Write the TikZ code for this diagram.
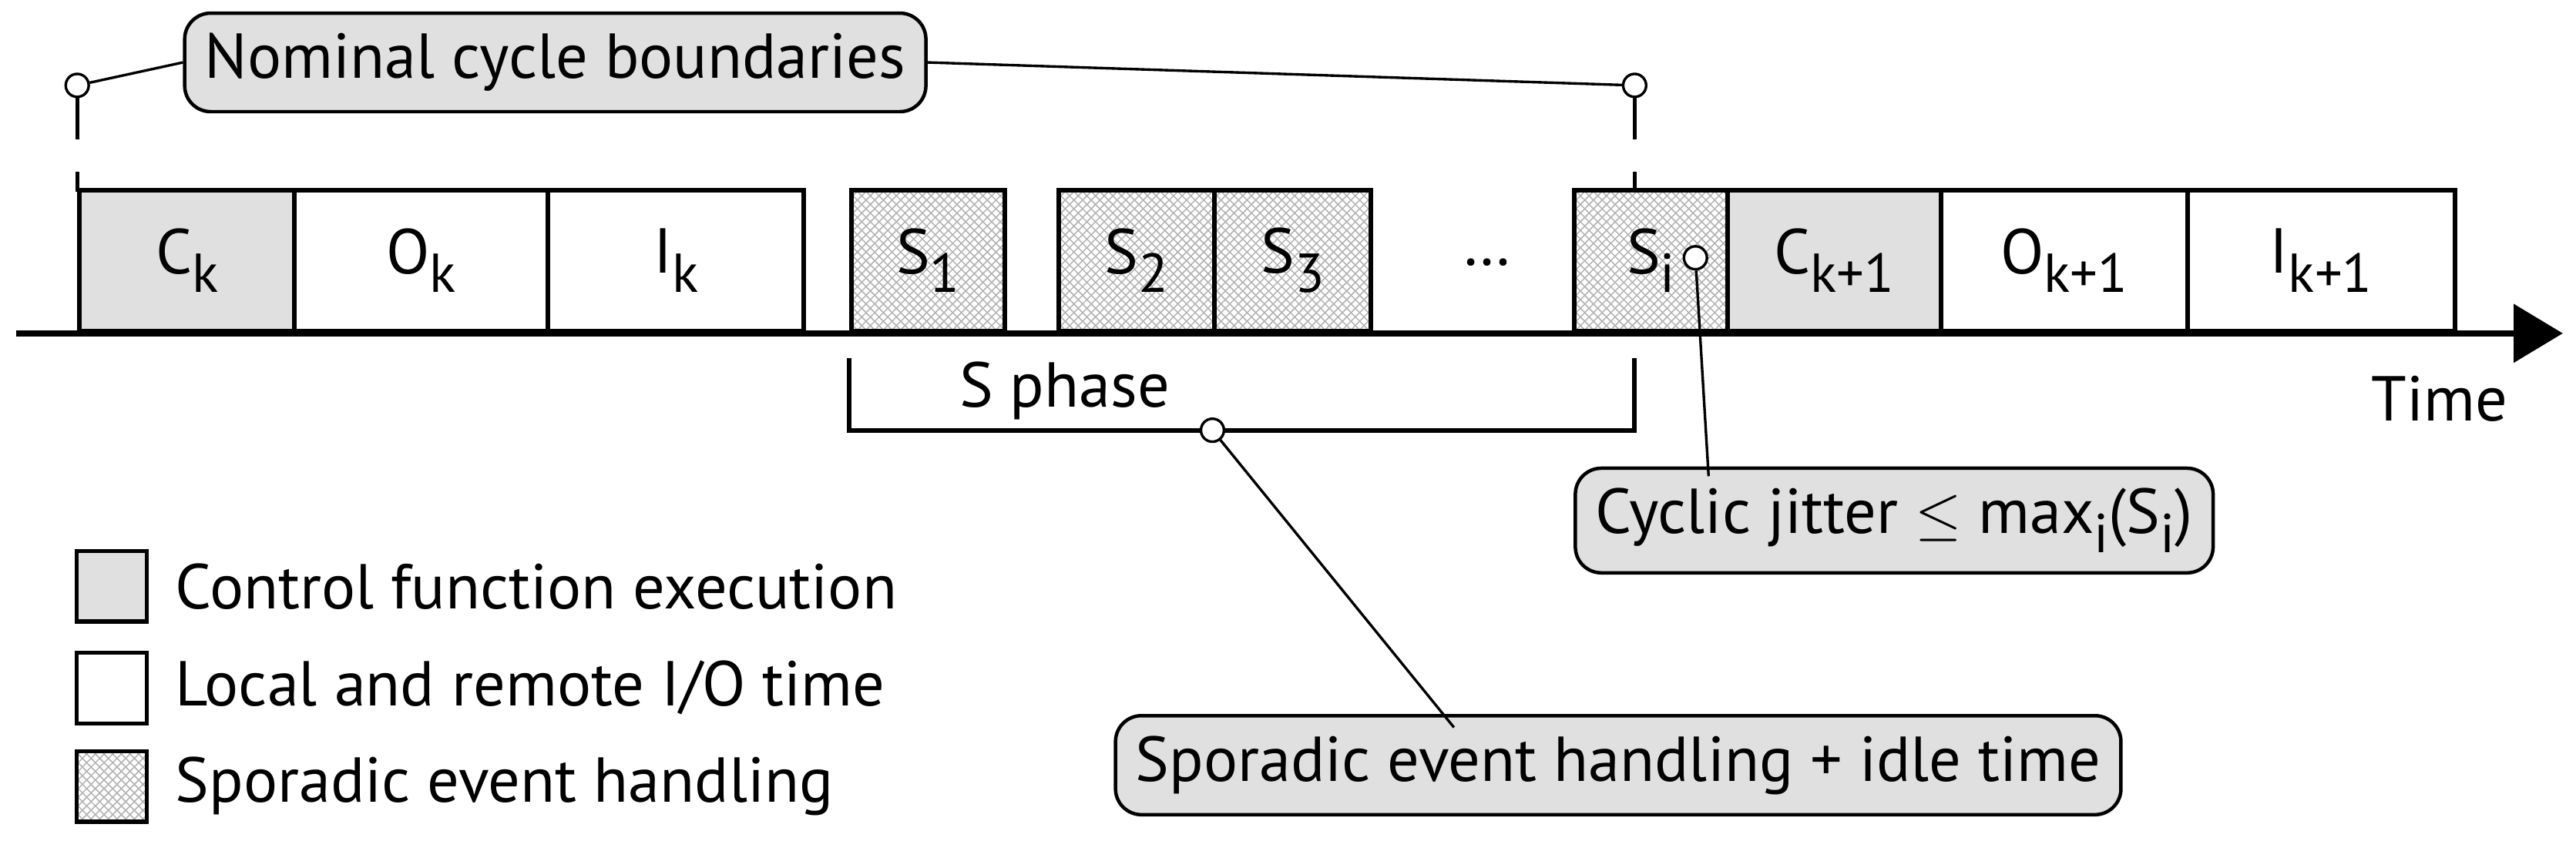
\documentclass[tikz,border=0pt]{standalone}
\usepackage{fontspec}
\setmainfont{PT Sans}
\usetikzlibrary{arrows.meta, positioning, patterns}
\newcommand{\sub}[1]{\raisebox{-0.6ex}{\fontsize{19}{22}\selectfont #1}}

\begin{document}
\begin{tikzpicture}[
  x=0.02cm, y=-0.02cm,
  font=\fontsize{22}{26}\selectfont,
  slot/.style={
    rectangle,
    draw=black,
    line width=1.6pt,
    minimum height=1.72cm,
    inner sep=0pt,
    anchor=south west
  },
  ctrl/.style={slot, fill=black!12},
  io/.style={slot, fill=white},
  spor/.style={slot, pattern=crosshatch, pattern color=black!30},
  callout/.style={
    rectangle,
    rounded corners=9pt,
    draw=black,
    line width=1.2pt,
    fill=black!12,
    inner xsep=7pt,
    inner ysep=7pt
  },
  pin/.style={circle, draw=black, line width=0.9pt, fill=white, minimum size=0.28cm, inner sep=0pt},
  leader/.style={line width=0.9pt},
  key/.style={rectangle, draw=black, line width=1.4pt, minimum size=0.86cm, inner sep=0pt}
]
  \useasboundingbox (0,0) rectangle (1568,512);

  % time axis
  \coordinate (t0) at (10,203);
  \coordinate (t1) at (1560,203);
  \draw[line width=2.2pt, -{Triangle[length=0.6cm, width=0.7cm]}] (t0) -- (t1);
  \node (time) at (1485,243) {Time};

  % cycle k
  \node[ctrl, minimum width=2.62cm] (ck) at (47,203) {C\sub{k}};
  \node[io, minimum width=3.08cm] (ok) at (178,203) {O\sub{k}};
  \node[io, minimum width=3.12cm] (ik) at (332,203) {I\sub{k}};

  % S phase
  \node[spor, minimum width=1.86cm] (s1) at (517,203) {S\sub{1}};
  \node[spor, minimum width=1.90cm] (s2) at (643,203) {S\sub{2}};
  \node[spor, minimum width=1.90cm] (s3) at (738,203) {S\sub{3}};
  \node (dots) at (905,160) {\dots};
  \node[spor, minimum width=1.86cm] (si) at (957,203) {S\sub{i}\hspace{0.5cm}};

  % cycle k+1
  \node[ctrl, minimum width=2.60cm] (ck1) at (1050,203) {C\sub{k+1}};
  \node[io, minimum width=3.00cm] (ok1) at (1180,203) {O\sub{k+1}};
  \node[io, minimum width=3.26cm] (ik1) at (1330,203) {I\sub{k+1}};

  % nominal cycle boundaries
  \node[pin] (b0) at (47,52) {};
  \node[pin] (b1) at (995,52) {};
  \coordinate (b0f) at (47,117);
  \coordinate (b1f) at (995,117);
  \draw[line width=1.4pt, dash pattern=on 0.5cm off 0.4cm] (b0) -- (b0f);
  \draw[line width=1.4pt, dash pattern=on 0.5cm off 0.4cm] (b1) -- (b1f);
  \node[callout] (nominal) at (338,38) {Nominal cycle boundaries};
  \draw[leader] (b0) -- (nominal.west);
  \draw[leader] (nominal.east) -- (b1);

  % S phase bracket
  \coordinate (pa) at (517,218);
  \coordinate (pb) at (517,262);
  \coordinate (pc) at (995,262);
  \coordinate (pd) at (995,218);
  \draw[line width=1.6pt] (pa) -- (pb) -- (pc) -- (pd);
  \node (sphase) at (648,238) {S phase};
  \node[pin] (sp) at (738,262) {};
  \node[callout] (idle) at (985,466) {Sporadic event handling + idle time};
  \coordinate (idletop) at (885,443);
  \draw[leader] (sp) -- (idletop);

  % jitter
  \node[pin] (jp) at (1032,157) {};
  \node[callout] (jitter) at (1153,317) {Cyclic jitter $\leq$ max\sub{i}(S\sub{i})};
  \coordinate (jittop) at (1040,290);
  \draw[leader] (jp) -- (jittop);

  % legend
  \node[key, fill=black!12] (k1) at (68,357) {};
  \node[key, fill=white] (k2) at (68,419) {};
  \node[key, pattern=crosshatch, pattern color=black!30] (k3) at (68,479) {};
  \node[right=0.2cm of k1] (l1) {Control function execution};
  \node[right=0.2cm of k2] (l2) {Local and remote I/O time};
  \node[right=0.2cm of k3] (l3) {Sporadic event handling};
\end{tikzpicture}
\end{document}
